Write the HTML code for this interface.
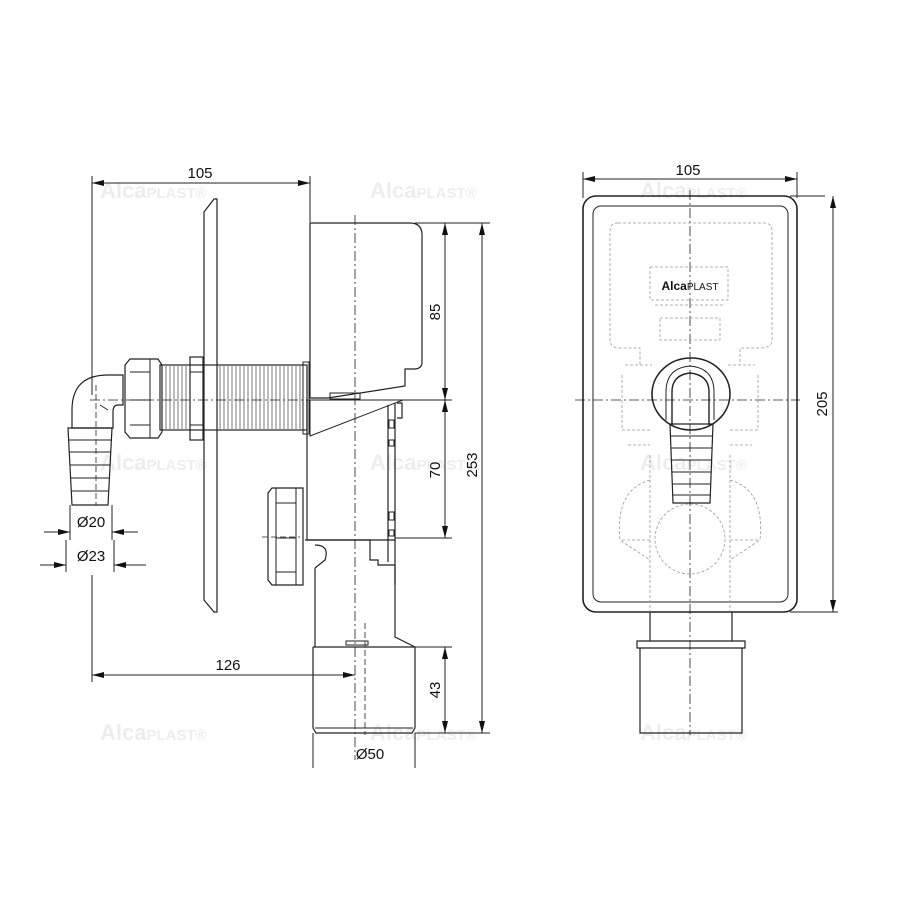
<!DOCTYPE html>
<html><head><meta charset="utf-8"><style>
html,body{margin:0;padding:0;background:#fff}
svg{display:block}
text{font-family:"Liberation Sans",Arial,sans-serif;fill:#111}
text.wm{fill:#ededed;font-weight:bold;font-size:22px}
</style></head><body>
<svg width="900" height="904" viewBox="0 0 900 904" xmlns="http://www.w3.org/2000/svg">
<defs>
<marker id="a" viewBox="0 0 12 6" refX="12" refY="3" markerWidth="12" markerHeight="6" orient="auto-start-reverse" markerUnits="userSpaceOnUse"><path d="M0,0 L12,3 L0,6 z" fill="#111"/></marker>
</defs>
<!-- watermarks -->
<text class="wm" x="100" y="198">Alca<tspan font-size="15">PLAST®</tspan></text>
<text class="wm" x="370" y="198">Alca<tspan font-size="15">PLAST®</tspan></text>
<text class="wm" x="640" y="198">Alca<tspan font-size="15">PLAST®</tspan></text>
<text class="wm" x="100" y="470">Alca<tspan font-size="15">PLAST®</tspan></text>
<text class="wm" x="370" y="470">Alca<tspan font-size="15">PLAST®</tspan></text>
<text class="wm" x="640" y="470">Alca<tspan font-size="15">PLAST®</tspan></text>
<text class="wm" x="100" y="740">Alca<tspan font-size="15">PLAST®</tspan></text>
<text class="wm" x="370" y="740">Alca<tspan font-size="15">PLAST®</tspan></text>
<text class="wm" x="640" y="740">Alca<tspan font-size="15">PLAST®</tspan></text>
<g fill="none" stroke="#222" stroke-width="1">
<!-- LEFT VIEW dims -->
<line x1="92" y1="176" x2="92" y2="395"/>
<line x1="92" y1="575" x2="92" y2="682"/>
<line x1="310" y1="176" x2="310" y2="222"/>
<line x1="92" y1="183" x2="310" y2="183" marker-start="url(#a)" marker-end="url(#a)"/>
<line x1="92" y1="675" x2="355" y2="675" marker-start="url(#a)" marker-end="url(#a)"/>
<line x1="415" y1="223" x2="490" y2="223"/>
<line x1="400" y1="400" x2="452" y2="400"/>
<line x1="395" y1="538" x2="452" y2="538"/>
<line x1="415" y1="647" x2="452" y2="647"/>
<line x1="415" y1="733" x2="490" y2="733"/>
<line x1="445" y1="223" x2="445" y2="400" marker-start="url(#a)" marker-end="url(#a)"/>
<line x1="445" y1="400" x2="445" y2="538" marker-start="url(#a)" marker-end="url(#a)"/>
<line x1="445" y1="647" x2="445" y2="733" marker-start="url(#a)" marker-end="url(#a)"/>
<line x1="482" y1="223" x2="482" y2="733" marker-start="url(#a)" marker-end="url(#a)"/>
<line x1="313" y1="733" x2="313" y2="768"/>
<line x1="415" y1="733" x2="415" y2="768"/>
<line x1="70" y1="505" x2="70" y2="540"/><line x1="112" y1="505" x2="112" y2="540"/>
<line x1="44" y1="532" x2="70" y2="532" marker-end="url(#a)"/><line x1="138" y1="532" x2="112" y2="532" marker-end="url(#a)"/>
<line x1="66" y1="540" x2="66" y2="572"/><line x1="114" y1="540" x2="114" y2="572"/>
<line x1="40" y1="565" x2="66" y2="565" marker-end="url(#a)"/><line x1="146" y1="565" x2="114" y2="565" marker-end="url(#a)"/>
<!-- centerlines -->
<line x1="90" y1="400" x2="440" y2="400" stroke-dasharray="10,3,2,3" stroke-width="0.8"/>
<line x1="355" y1="215" x2="355" y2="760" stroke-dasharray="10,3,2,3" stroke-width="0.8"/>
<line x1="365" y1="623" x2="365" y2="735" stroke-dasharray="6,3" stroke-width="0.8"/>
<line x1="96" y1="385" x2="96" y2="505" stroke-dasharray="6,3" stroke-width="0.8"/>
<line x1="262" y1="537" x2="300" y2="537" stroke-dasharray="6,3" stroke-width="0.8"/>
<!-- plate -->
<path d="M204,212 L214,199 L217,199 L217,612 L214,612 L204,600 Z" stroke-width="1.2"/>
<!-- upper box -->
<path d="M310,223 L410,223 Q422,223 422,235 L422,362 Q422,369 414,369 L405,369 L405,386 L328,398 L310,398 Z" stroke-width="1.2"/>
<rect x="330" y="393" width="30" height="6" />
<path d="M310,400 L310,436 L403,400 Z"/>
<!-- middle body -->
<path d="M307,400 L307,540 L395,540 L395,403 M388,405 L388,540 M397,403 L402,403 L402,418 L397,418" stroke-width="1.2"/>
<rect x="389" y="420" width="5" height="8"/><rect x="389" y="440" width="5" height="6"/><rect x="389" y="512" width="5" height="8"/><rect x="389" y="530" width="5" height="6"/>
<!-- lower part -->
<path d="M305,540 L370,540 L370,560 L378,560 L378,565 L395,565 L395,585 M388,540 L388,562" stroke-width="1.2"/>
<path d="M315,545 Q330,545 325,560 L315,568 M315,568 L315,647 M395,540 L395,637 L415,647 L313,647" stroke-width="1.2"/>
<rect x="346" y="641" width="22" height="4"/>
<!-- bottom pipe -->
<path d="M313,647 L313,728 L316,733 L412,733 L415,728 L415,647" stroke-width="1.2"/>
<line x1="315" y1="728" x2="413" y2="728"/>
<!-- lower nut -->
<path d="M272,488 L303,488 L303,585 L272,585 L268,580 L268,493 Z" stroke-width="1.2"/>
<path d="M276,488 L276,585 M276,503 L296,503 M276,538 L296,538 M276,572 L296,572 M296,488 L296,585"/>
<!-- thread tube -->
<rect x="160" y="365" width="147" height="65" stroke-width="1.2"/>
<g stroke-width="0.6">
<path d="M166,366V429M170,366V429M174,366V429M178,366V429M182,366V429M186,366V429M220,366V429M224,366V429M228,366V429M232,366V429M236,366V429M240,366V429M244,366V429M248,366V429M252,366V429M256,366V429M260,366V429M264,366V429M268,366V429M272,366V429M276,366V429M280,366V429M284,366V429M288,366V429M292,366V429M296,366V429M300,366V429"/>
</g>
<rect x="303" y="362" width="6" height="72"/>
<!-- flange nut -->
<rect x="190" y="357" width="13" height="83" stroke-width="1.2"/>
<path d="M190,372 H203 M190,425 H203"/>
<!-- nut -->
<path d="M130,359 L158,359 L162,365 L162,432 L158,438 L130,438 L125,432 L125,365 Z" stroke-width="1.2"/>
<path d="M130,372 L150,372 M130,400 L150,400 M130,425 L150,425 M150,359 L150,438"/>
<!-- elbow -->
<path d="M123,375 L108,375 Q72,375 72,410 L72,428 L113,428 L113,412 Q113,405 118,405 L123,405 Z" stroke-width="1.2"/>
<path d="M100,405 L108,410"/>
<!-- hose barb -->
<path d="M68,428 L112,428 L108,505 L72,505 Z" stroke-width="1.2"/>
<path d="M68,440 H112 M69,452 H111 M70,465 H110 M70,478 H109 M71,491 H108"/>

<!-- RIGHT VIEW -->
<line x1="583" y1="172" x2="583" y2="198"/><line x1="797" y1="172" x2="797" y2="198"/>
<line x1="583" y1="179" x2="797" y2="179" marker-start="url(#a)" marker-end="url(#a)"/>
<line x1="790" y1="196" x2="825" y2="196"/><line x1="790" y1="612" x2="838" y2="612"/>
<line x1="833" y1="196" x2="833" y2="612" marker-start="url(#a)" marker-end="url(#a)"/>
<rect x="583" y="196" width="214" height="416" rx="13" stroke-width="1.6"/>
<rect x="593" y="206" width="195" height="396" rx="8"/>
<line x1="575" y1="400" x2="800" y2="400" stroke-dasharray="10,3,2,3" stroke-width="0.8"/>
<line x1="690" y1="190" x2="690" y2="735" stroke-dasharray="10,3,2,3" stroke-width="0.8"/>
<g stroke="#999" stroke-dasharray="3,2" stroke-width="0.8">
<path d="M618,223 H764 Q772,223 772,231 V340 Q772,348 760,348 L740,348 L740,365 M618,223 Q610,223 610,231 V340 Q610,348 620,348 L640,348 L640,365"/>
<rect x="650" y="267" width="78" height="33"/>
<path d="M655,305 H725 M660,318 H720 V340 H660 Z"/>
<path d="M625,365 H652 M728,365 H755 M622,375 V430 H650 M758,375 V430 H730 M628,445 H650 M730,445 H752"/>
<path d="M650,480 Q615,490 620,540 L650,560 M730,480 Q765,490 760,540 L730,560 M622,540 H650 M758,540 H730"/>
<circle cx="690" cy="539" r="35"/>
<path d="M650,455 V612 M730,455 V612"/>
</g>
<ellipse cx="691" cy="394" rx="39" ry="36" stroke-width="1.6"/>
<path d="M672,425 L672,392 Q672,375 690,373 Q709,375 709,392 L709,425" stroke-width="1.4"/>
<path d="M666,420 L666,392 Q666,368 690,366 Q714,368 714,392 L714,420"/>
<path d="M670,424 L713,424 L710,503 L673,503 Z" stroke-width="1.2"/>
<path d="M670,436 H713 M671,448 H712 M671,460 H712 M672,472 H711 M672,484 H711 M673,495 H710"/>
<!-- bottom pipe -->
<path d="M650,612 V641 M732,612 V641" stroke-width="1.2"/>
<path d="M637,641 H745 V648 H637 Z" stroke-width="1.2"/>
<path d="M640,648 V733 H742 V648" stroke-width="1.2"/>
</g>
<!-- texts -->
<g font-size="15">
<text x="200" y="178" text-anchor="middle">105</text>
<text x="688" y="175" text-anchor="middle">105</text>
<text x="228" y="670" text-anchor="middle">126</text>
<text x="91" y="527" text-anchor="middle">Ø20</text>
<text x="91" y="561" text-anchor="middle">Ø23</text>
<text x="370" y="759" text-anchor="middle">Ø50</text>
<text transform="translate(440,312) rotate(-90)" text-anchor="middle">85</text>
<text transform="translate(440,470) rotate(-90)" text-anchor="middle">70</text>
<text transform="translate(477,465) rotate(-90)" text-anchor="middle">253</text>
<text transform="translate(440,690) rotate(-90)" text-anchor="middle">43</text>
<text transform="translate(827,404) rotate(-90)" text-anchor="middle">205</text>
</g>
<text x="690" y="290" text-anchor="middle" font-size="12" font-weight="bold">Alca<tspan font-weight="normal" font-size="10">PLAST</tspan></text>
</svg>
</body></html>
